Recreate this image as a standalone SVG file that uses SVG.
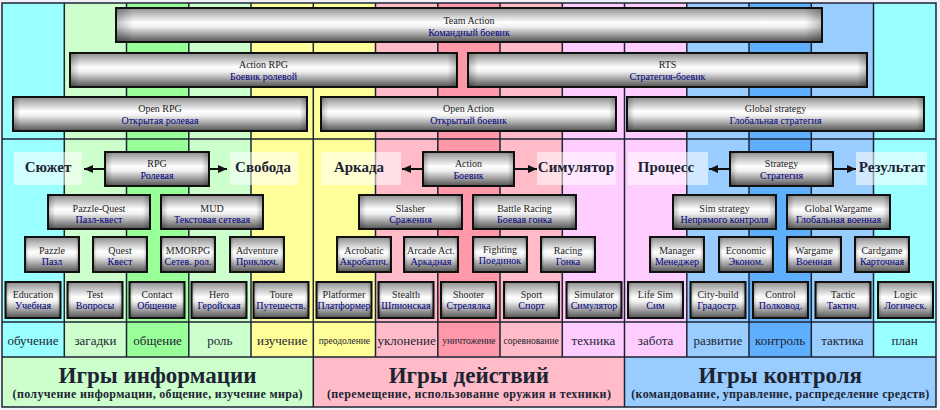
<svg xmlns="http://www.w3.org/2000/svg" width="940" height="410" viewBox="0 0 940 410">
<defs>
<linearGradient id="g" x1="0" y1="0" x2="0" y2="1">
<stop offset="0" stop-color="#8e8e8e"/>
<stop offset="0.42" stop-color="#ffffff"/>
<stop offset="0.55" stop-color="#f0f0f0"/>
<stop offset="1" stop-color="#525252"/>
</linearGradient>
<linearGradient id="ge" x1="0" y1="0" x2="1" y2="0">
<stop offset="0" stop-color="#000" stop-opacity="0.25"/>
<stop offset="0.07" stop-color="#000" stop-opacity="0"/>
<stop offset="0.93" stop-color="#000" stop-opacity="0"/>
<stop offset="1" stop-color="#000" stop-opacity="0.25"/>
</linearGradient>
<linearGradient id="gw" x1="0" y1="0" x2="1" y2="0">
<stop offset="0" stop-color="#000" stop-opacity="0.25"/>
<stop offset="0.025" stop-color="#000" stop-opacity="0"/>
<stop offset="0.975" stop-color="#000" stop-opacity="0"/>
<stop offset="1" stop-color="#000" stop-opacity="0.25"/>
</linearGradient>
<marker id="ah" markerWidth="9" markerHeight="8" refX="9" refY="4" orient="auto" markerUnits="userSpaceOnUse"><path d="M0,0 L9,4 L0,8 z" fill="#111"/></marker>
</defs>
<style>
.b{fill:url(#g);stroke:#111;stroke-width:2}
.e{fill:url(#ge)}
.ew{fill:url(#gw)}
.t1,.t2{font-family:"Liberation Serif","Times New Roman",serif;font-size:10px;text-anchor:middle}
.t1{fill:#222}
.t2{fill:#000080}
.lb{fill:#fff;fill-opacity:0.55}
.lt{font-family:"Liberation Serif","Times New Roman",serif;font-size:15px;font-weight:bold;fill:#1c2433;text-anchor:middle}
.w{font-family:"Liberation Serif","Times New Roman",serif;font-size:13px;fill:#1c2433;text-anchor:middle}
.ws{font-size:9.5px}
.h{font-family:"Liberation Serif","Times New Roman",serif;font-size:23px;font-weight:bold;fill:#1c2433;text-anchor:middle}
.s{font-family:"Liberation Serif","Times New Roman",serif;font-size:12px;font-weight:bold;fill:#1c2433;text-anchor:middle}
.ln{stroke:#1c2433;stroke-width:1.5;fill:none}
.ar{stroke:#111;stroke-width:2;marker-end:url(#ah)}
</style>
<rect x="0" y="0" width="940" height="410" fill="#f0f0f8"/>
<g id="columns">
<rect x="2" y="3" width="62.3" height="354" fill="#99FFFF"/>
<rect x="64.3" y="3" width="62.2" height="354" fill="#CCFFCC"/>
<rect x="126.5" y="3" width="62.3" height="354" fill="#99FF99"/>
<rect x="188.8" y="3" width="62.2" height="354" fill="#CCFFCC"/>
<rect x="251" y="3" width="62.3" height="354" fill="#FFFF99"/>
<rect x="313.3" y="3" width="62.2" height="354" fill="#FFFF99"/>
<rect x="375.5" y="3" width="62.3" height="354" fill="#FFBBC8"/>
<rect x="437.8" y="3" width="62.2" height="354" fill="#FF99AA"/>
<rect x="500" y="3" width="62.3" height="354" fill="#FFBBC8"/>
<rect x="562.3" y="3" width="62.2" height="354" fill="#FFCCFF"/>
<rect x="624.5" y="3" width="62.3" height="354" fill="#FFCCFF"/>
<rect x="686.8" y="3" width="62.2" height="354" fill="#99CCFF"/>
<rect x="749" y="3" width="62.3" height="354" fill="#5FAFFF"/>
<rect x="811.3" y="3" width="62.2" height="354" fill="#99CCFF"/>
<rect x="873.5" y="3" width="62.5" height="354" fill="#99FFFF"/>
<rect x="2" y="357" width="311.3" height="50" fill="#CCFFCC"/>
<rect x="313.3" y="357" width="311.2" height="50" fill="#FFBBC8"/>
<rect x="624.5" y="357" width="311.5" height="50" fill="#99CCFF"/>
</g>
<g id="grid" class="ln">
<path d="M64.3,3V357M126.5,3V357M188.8,3V357M251,3V357M313.3,3V407M375.5,3V357M437.8,3V357M500,3V357M562.3,3V357M624.5,3V407M686.8,3V357M749,3V357M811.3,3V357M873.5,3V357"/>
<path d="M2,139H936M2,322H936M2,357H936"/>
<rect x="2" y="3" width="934" height="404"/>
</g>
<g id="words">
<text class="w" x="33" y="345">обучение</text>
<text class="w" x="95.4" y="345">загадки</text>
<text class="w" x="157.6" y="345">общение</text>
<text class="w" x="219.9" y="345">роль</text>
<text class="w" x="282.1" y="345">изучение</text>
<text class="w ws" x="344.4" y="344">преодоление</text>
<text class="w" x="406.6" y="345">уклонение</text>
<text class="w ws" x="468.9" y="344">уничтожение</text>
<text class="w ws" x="531.1" y="344">соревнование</text>
<text class="w" x="593.4" y="345">техника</text>
<text class="w" x="655.6" y="345">забота</text>
<text class="w" x="717.9" y="345">развитие</text>
<text class="w" x="780.1" y="345">контроль</text>
<text class="w" x="842.4" y="345">тактика</text>
<text class="w" x="904.7" y="345">план</text>
</g>
<g id="titles">
<text class="h" x="157.6" y="383">Игры информации</text>
<text class="s" x="157.6" y="398" textLength="290" lengthAdjust="spacing">(получение информации, общение, изучение мира)</text>
<text class="h" x="468.9" y="383">Игры действий</text>
<text class="s" x="468.9" y="398" textLength="284" lengthAdjust="spacing">(перемещение, использование оружия и техники)</text>
<text class="h" x="780.3" y="383">Игры контроля</text>
<text class="s" x="780.3" y="398" textLength="298" lengthAdjust="spacing">(командование, управление, распределение средств)</text>
</g>
<g id="n-team-action"><rect class="b" x="116" y="8" width="706" height="34"/><rect class="ew" x="116" y="8" width="706" height="34"/><text class="t1" x="469" y="24">Team Action</text><text class="t2" x="469" y="36">Командный боевик</text></g>
<g id="n-action-rpg"><rect class="b" x="70" y="53" width="387" height="34"/><rect class="ew" x="70" y="53" width="387" height="34"/><text class="t1" x="263.5" y="68">Action RPG</text><text class="t2" x="263.5" y="80">Боевик ролевой</text></g>
<g id="n-rts"><rect class="b" x="468" y="53" width="399" height="34"/><rect class="ew" x="468" y="53" width="399" height="34"/><text class="t1" x="667.5" y="68">RTS</text><text class="t2" x="667.5" y="80">Стратегия-боевик</text></g>
<g id="n-open-rpg"><rect class="b" x="13" y="97" width="294" height="34"/><rect class="ew" x="13" y="97" width="294" height="34"/><text class="t1" x="160" y="112">Open RPG</text><text class="t2" x="160" y="124">Открытая ролевая</text></g>
<g id="n-open-action"><rect class="b" x="321" y="97" width="295" height="34"/><rect class="ew" x="321" y="97" width="295" height="34"/><text class="t1" x="468.5" y="112">Open Action</text><text class="t2" x="468.5" y="124">Открытый боевик</text></g>
<g id="n-global-strategy"><rect class="b" x="627" y="97" width="297" height="34"/><rect class="ew" x="627" y="97" width="297" height="34"/><text class="t1" x="775.5" y="112">Global  strategy</text><text class="t2" x="775.5" y="124">Глобальная стратегия</text></g>

<g id="l-syuzhet"><rect class="lb" x="14" y="152" width="68" height="33"/><text class="lt" x="48" y="172">Сюжет</text></g>
<g id="l-svoboda"><rect class="lb" x="230" y="152" width="68" height="33"/><text class="lt" x="263" y="172">Свобода</text></g>
<g id="n-rpg"><rect class="b" x="105" y="152" width="104" height="34"/><rect class="e" x="105" y="152" width="104" height="34"/><text class="t1" x="157" y="167">RPG</text><text class="t2" x="157" y="179">Ролевая</text></g>
<g id="n-pazzle-quest"><rect class="b" x="48" y="195" width="102" height="34"/><rect class="e" x="48" y="195" width="102" height="34"/><text class="t1" x="99" y="211.5">Pazzle-Quest</text><text class="t2" x="99" y="223">Пазл-квест</text></g>
<g id="n-mud"><rect class="b" x="161" y="195" width="102" height="34"/><rect class="e" x="161" y="195" width="102" height="34"/><text class="t1" x="212" y="211.5">MUD</text><text class="t2" x="212" y="223">Текстовая сетевая</text></g>
<g id="n-pazzle"><rect class="b" x="25" y="237" width="54" height="35"/><rect class="e" x="25" y="237" width="54" height="35"/><text class="t1" x="52" y="253.5">Pazzle</text><text class="t2" x="52" y="264.5">Пазл</text></g>
<g id="n-quest"><rect class="b" x="93" y="237" width="54" height="35"/><rect class="e" x="93" y="237" width="54" height="35"/><text class="t1" x="120" y="253.5">Quest</text><text class="t2" x="120" y="264.5">Квест</text></g>
<g id="n-mmorpg"><rect class="b" x="161" y="237" width="54" height="35"/><rect class="e" x="161" y="237" width="54" height="35"/><text class="t1" x="188" y="253.5">MMORPG</text><text class="t2" x="188" y="264.5">Сетев. рол.</text></g>
<g id="n-adventure"><rect class="b" x="230" y="237" width="54" height="35"/><rect class="e" x="230" y="237" width="54" height="35"/><text class="t1" x="257" y="253.5">Adventure</text><text class="t2" x="257" y="264.5">Приключ.</text></g>

<g id="l-arkada"><rect class="lb" x="321" y="152" width="80" height="33"/><text class="lt" x="359" y="172">Аркада</text></g>
<g id="l-simulyator"><rect class="lb" x="537" y="152" width="79" height="33"/><text class="lt" x="576" y="172">Симулятор</text></g>
<g id="n-action"><rect class="b" x="423" y="152" width="91" height="34"/><rect class="e" x="423" y="152" width="91" height="34"/><text class="t1" x="468.5" y="167">Action</text><text class="t2" x="468.5" y="179">Боевик</text></g>
<g id="n-slasher"><rect class="b" x="359" y="195" width="103" height="34"/><rect class="e" x="359" y="195" width="103" height="34"/><text class="t1" x="410.5" y="211.5">Slasher</text><text class="t2" x="410.5" y="223">Сражения</text></g>
<g id="n-battle-racing"><rect class="b" x="473" y="195" width="103" height="34"/><rect class="e" x="473" y="195" width="103" height="34"/><text class="t1" x="524.5" y="211.5">Battle Racing</text><text class="t2" x="524.5" y="223">Боевая гонка</text></g>
<g id="n-acrobatic"><rect class="b" x="337" y="237" width="54" height="35"/><rect class="e" x="337" y="237" width="54" height="35"/><text class="t1" x="364" y="253.5">Acrobatic</text><text class="t2" x="364" y="264.5">Акробатич.</text></g>
<g id="n-arcade-act"><rect class="b" x="404" y="237" width="54" height="35"/><rect class="e" x="404" y="237" width="54" height="35"/><text class="t1" x="431" y="253.5">Arcade Act.</text><text class="t2" x="431" y="264.5">Аркадная</text></g>
<g id="n-fighting"><rect class="b" x="473" y="237" width="54" height="35"/><rect class="e" x="473" y="237" width="54" height="35"/><text class="t1" x="500" y="252.5">Fighting</text><text class="t2" x="500" y="263.5">Поединок</text></g>
<g id="n-racing"><rect class="b" x="541" y="237" width="54" height="35"/><rect class="e" x="541" y="237" width="54" height="35"/><text class="t1" x="568" y="253.5">Racing</text><text class="t2" x="568" y="264.5">Гонка</text></g>

<g id="l-protsess"><rect class="lb" x="628" y="152" width="80" height="33"/><text class="lt" x="666" y="172">Процесс</text></g>
<g id="l-rezultat"><rect class="lb" x="856" y="152" width="71" height="33"/><text class="lt" x="892" y="172">Результат</text></g>
<g id="n-strategy"><rect class="b" x="730" y="152" width="103" height="34"/><rect class="e" x="730" y="152" width="103" height="34"/><text class="t1" x="781.5" y="167">Strategy</text><text class="t2" x="781.5" y="179">Стратегия</text></g>
<g id="n-sim-strategy"><rect class="b" x="673" y="195" width="103" height="34"/><rect class="e" x="673" y="195" width="103" height="34"/><text class="t1" x="724.5" y="211.5">Sim strategy</text><text class="t2" x="724.5" y="223">Непрямого контроля</text></g>
<g id="n-global-wargame"><rect class="b" x="787" y="195" width="103" height="34"/><rect class="e" x="787" y="195" width="103" height="34"/><text class="t1" x="838.5" y="211.5">Global Wargame</text><text class="t2" x="838.5" y="223">Глобальная военная</text></g>
<g id="n-manager"><rect class="b" x="650" y="237" width="54" height="35"/><rect class="e" x="650" y="237" width="54" height="35"/><text class="t1" x="677" y="253.5">Manager</text><text class="t2" x="677" y="264.5">Менеджер</text></g>
<g id="n-economic"><rect class="b" x="719" y="237" width="54" height="35"/><rect class="e" x="719" y="237" width="54" height="35"/><text class="t1" x="746" y="253.5">Economic</text><text class="t2" x="746" y="264.5">Эконом.</text></g>
<g id="n-wargame"><rect class="b" x="787" y="237" width="54" height="35"/><rect class="e" x="787" y="237" width="54" height="35"/><text class="t1" x="814" y="253.5">Wargame</text><text class="t2" x="814" y="264.5">Военная</text></g>
<g id="n-cardgame"><rect class="b" x="855" y="237" width="54" height="35"/><rect class="e" x="855" y="237" width="54" height="35"/><text class="t1" x="882" y="253.5">Cardgame</text><text class="t2" x="882" y="264.5">Карточная</text></g>

<g id="n-education"><rect class="b" x="5.5" y="282" width="55" height="36"/><rect class="e" x="5.5" y="282" width="55" height="36"/><text class="t1" x="33" y="298">Education</text><text class="t2" x="33" y="309">Учебная</text></g>
<g id="n-test"><rect class="b" x="67.5" y="282" width="55" height="36"/><rect class="e" x="67.5" y="282" width="55" height="36"/><text class="t1" x="95" y="298">Test</text><text class="t2" x="95" y="309">Вопросы</text></g>
<g id="n-contact"><rect class="b" x="129.5" y="282" width="55" height="36"/><rect class="e" x="129.5" y="282" width="55" height="36"/><text class="t1" x="157" y="298">Contact</text><text class="t2" x="157" y="309">Общение</text></g>
<g id="n-hero"><rect class="b" x="191.5" y="282" width="55" height="36"/><rect class="e" x="191.5" y="282" width="55" height="36"/><text class="t1" x="219" y="298">Hero</text><text class="t2" x="219" y="309">Геройская</text></g>
<g id="n-toure"><rect class="b" x="253.5" y="282" width="55" height="36"/><rect class="e" x="253.5" y="282" width="55" height="36"/><text class="t1" x="281" y="298">Toure</text><text class="t2" x="281" y="309">Путешеств.</text></g>
<g id="n-platformer"><rect class="b" x="316.5" y="282" width="55" height="36"/><rect class="e" x="316.5" y="282" width="55" height="36"/><text class="t1" x="344" y="298">Platformer</text><text class="t2" x="344" y="309">Платформер</text></g>
<g id="n-stealth"><rect class="b" x="378.5" y="282" width="55" height="36"/><rect class="e" x="378.5" y="282" width="55" height="36"/><text class="t1" x="406" y="298">Stealth</text><text class="t2" x="406" y="309">Шпионская</text></g>
<g id="n-shooter"><rect class="b" x="441" y="282" width="55" height="36"/><rect class="e" x="441" y="282" width="55" height="36"/><text class="t1" x="468.5" y="298">Shooter</text><text class="t2" x="468.5" y="309">Стрелялка</text></g>
<g id="n-sport"><rect class="b" x="504" y="282" width="55" height="36"/><rect class="e" x="504" y="282" width="55" height="36"/><text class="t1" x="531.5" y="298">Sport</text><text class="t2" x="531.5" y="309">Спорт</text></g>
<g id="n-simulator"><rect class="b" x="566.5" y="282" width="55" height="36"/><rect class="e" x="566.5" y="282" width="55" height="36"/><text class="t1" x="594" y="298">Simulator</text><text class="t2" x="594" y="309">Симулятор</text></g>
<g id="n-life-sim"><rect class="b" x="628" y="282" width="55" height="36"/><rect class="e" x="628" y="282" width="55" height="36"/><text class="t1" x="655.5" y="298">Life Sim</text><text class="t2" x="655.5" y="309">Сим</text></g>
<g id="n-city-build"><rect class="b" x="690.5" y="282" width="55" height="36"/><rect class="e" x="690.5" y="282" width="55" height="36"/><text class="t1" x="718" y="298">City-build</text><text class="t2" x="718" y="309">Градостр.</text></g>
<g id="n-control"><rect class="b" x="753" y="282" width="55" height="36"/><rect class="e" x="753" y="282" width="55" height="36"/><text class="t1" x="780.5" y="298">Control</text><text class="t2" x="780.5" y="309">Полковод.</text></g>
<g id="n-tactic"><rect class="b" x="815.5" y="282" width="55" height="36"/><rect class="e" x="815.5" y="282" width="55" height="36"/><text class="t1" x="843" y="298">Tactic</text><text class="t2" x="843" y="309">Тактич.</text></g>
<g id="n-logic"><rect class="b" x="878" y="282" width="55" height="36"/><rect class="e" x="878" y="282" width="55" height="36"/><text class="t1" x="905.5" y="298">Logic</text><text class="t2" x="905.5" y="309">Логическ.</text></g>

<g id="connectors">
<line class="ar" x1="105" y1="169" x2="84" y2="169"/>
<line class="ar" x1="209" y1="169" x2="227" y2="169"/>
<line class="ar" x1="423" y1="169" x2="402" y2="169"/>
<line class="ar" x1="514" y1="169" x2="537" y2="169"/>
<line class="ar" x1="730" y1="169" x2="709" y2="169"/>
<line class="ar" x1="833" y1="169" x2="856" y2="169"/>
</g>
</svg>
